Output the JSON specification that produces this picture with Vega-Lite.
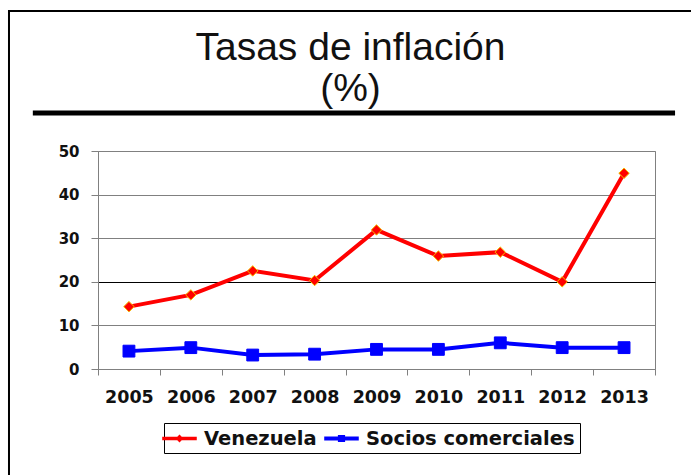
{
  "$schema": "https://vega.github.io/schema/vega-lite/v6.json",
  "width": 557,
  "height": 218,
  "autosize": {"type": "none"},
  "padding": {"left": 98, "top": 151, "right": 36, "bottom": 106},
  "background": "white",
  "title": {
    "text": ["Tasas de inflación", "(%)"],
    "font": "Liberation Sans",
    "fontSize": 39,
    "fontWeight": "normal",
    "color": "#111111",
    "lineHeight": 41,
    "anchor": "middle",
    "offset": 4,
    "dx": -26,
    "dy": 103
  },
  "config": {
    "view": {"stroke": "#808080", "strokeWidth": 1}
  },
  "data": {
    "values": [
      {"year": "2005", "series": "Venezuela", "value": 14.3},
      {"year": "2006", "series": "Venezuela", "value": 17.0},
      {"year": "2007", "series": "Venezuela", "value": 22.5},
      {"year": "2008", "series": "Venezuela", "value": 20.3},
      {"year": "2009", "series": "Venezuela", "value": 31.9},
      {"year": "2010", "series": "Venezuela", "value": 25.9},
      {"year": "2011", "series": "Venezuela", "value": 26.8},
      {"year": "2012", "series": "Venezuela", "value": 20.0},
      {"year": "2013", "series": "Venezuela", "value": 44.9},
      {"year": "2005", "series": "Socios comerciales", "value": 4.1},
      {"year": "2006", "series": "Socios comerciales", "value": 4.9},
      {"year": "2007", "series": "Socios comerciales", "value": 3.2},
      {"year": "2008", "series": "Socios comerciales", "value": 3.4},
      {"year": "2009", "series": "Socios comerciales", "value": 4.5},
      {"year": "2010", "series": "Socios comerciales", "value": 4.5},
      {"year": "2011", "series": "Socios comerciales", "value": 6.0},
      {"year": "2012", "series": "Socios comerciales", "value": 4.9},
      {"year": "2013", "series": "Socios comerciales", "value": 4.9}
    ]
  },
  "resolve": {"scale": {"x": "independent"}},
  "layer": [
    {
      "data": {"values": [{}]},
      "layer": [
        {
          "mark": {"type": "rect", "fill": null, "stroke": "#000000", "strokeWidth": 2, "clip": false},
          "encoding": {
            "x": {"datum": -0.1598, "type": "quantitative", "scale": {"domain": [0, 1]}, "axis": null},
            "x2": {"datum": 1.1},
            "y": {"datum": 82.1, "type": "quantitative", "scale": {"domain": [0, 50]}},
            "y2": {"datum": -28}
          }
        },
        {
          "mark": {"type": "rule", "strokeWidth": 5, "color": "#000000", "clip": false},
          "encoding": {
            "x": {"datum": -0.117, "type": "quantitative"},
            "x2": {"datum": 1.036},
            "y": {"datum": 58.7, "type": "quantitative"}
          }
        }
      ]
    },
    {
      "layer": [
        {
          "mark": {"type": "line", "strokeWidth": 4, "clip": false},
          "encoding": {
            "x": {
              "field": "year",
              "type": "ordinal",
              "scale": {"paddingInner": 0, "paddingOuter": 0},
              "axis": {
                "orient": "bottom",
                "title": null,
                "labelAngle": 0,
                "tickBand": "extent",
                "domainColor": "#808080",
                "tickColor": "#808080",
                "tickSize": 6,
                "labelFont": "DejaVu Sans",
                "labelFontWeight": "bold",
                "labelFontSize": 17.5,
                "labelColor": "#111111",
                "labelPadding": 13,
                "grid": false
              }
            },
            "y": {
              "field": "value",
              "type": "quantitative",
              "scale": {"domain": [0, 50]},
              "axis": {
                "orient": "left",
                "title": null,
                "values": [0, 10, 20, 30, 40, 50],
                "domainColor": "#808080",
                "tickColor": "#808080",
                "tickSize": 7,
                "labelFont": "DejaVu Sans",
                "labelFontWeight": "bold",
                "labelFontSize": 15,
                "labelColor": "#111111",
                "labelPadding": 12,
                "grid": true,
                "gridColor": {"condition": {"test": "datum.value === 20", "value": "#000000"}, "value": "#808080"},
                "gridWidth": 1
              }
            },
            "color": {
              "field": "series",
              "type": "nominal",
              "scale": {"domain": ["Venezuela", "Socios comerciales"], "range": ["#FF0000", "#0000FF"]},
              "legend": {
                "orient": "none",
                "legendX": 66,
                "legendY": 272,
                "direction": "horizontal",
                "title": null,
                "strokeColor": "#000000",
                "fillColor": "white",
                "padding": 5,
                "labelFont": "DejaVu Sans",
                "labelFontWeight": "bold",
                "labelFontSize": 19.5,
                "labelColor": "#111111",
                "labelLimit": 400,
                "labelOffset": 14,
                "columnPadding": 4,
                "symbolSize": 361,
                "encode": {
                  "symbols": {
                    "update": {
                      "shape": {"signal": "datum.value === 'Venezuela' ? 'M-1.74,-0.11H1.74V0.11H-1.74Z M0,-0.3L0.3,0L0,0.3L-0.3,0Z' : 'M-1.74,-0.12H1.74V0.12H-1.74Z M-0.3,-0.3H0.3V0.3H-0.3Z'"},
                      "fill": {"scale": "color", "field": "value"},
                      "stroke": {"value": "transparent"},
                      "opacity": {"value": 1}
                    }
                  }
                }
              }
            }
          }
        },
        {
          "mark": {"type": "point", "filled": true, "opacity": 1, "clip": false},
          "encoding": {
            "x": {"field": "year", "type": "ordinal"},
            "y": {"field": "value", "type": "quantitative"},
            "color": {"field": "series", "type": "nominal"},
            "shape": {"condition": {"test": "datum.series === 'Venezuela'", "value": "diamond"}, "value": "square"},
            "size": {"condition": {"test": "datum.series === 'Venezuela'", "value": 110}, "value": 140},
            "stroke": {"condition": {"test": "datum.series === 'Venezuela'", "value": "#F5C000"}, "value": "#0000FF"},
            "strokeWidth": {"value": 1}
          }
        }
      ]
    }
  ]
}
